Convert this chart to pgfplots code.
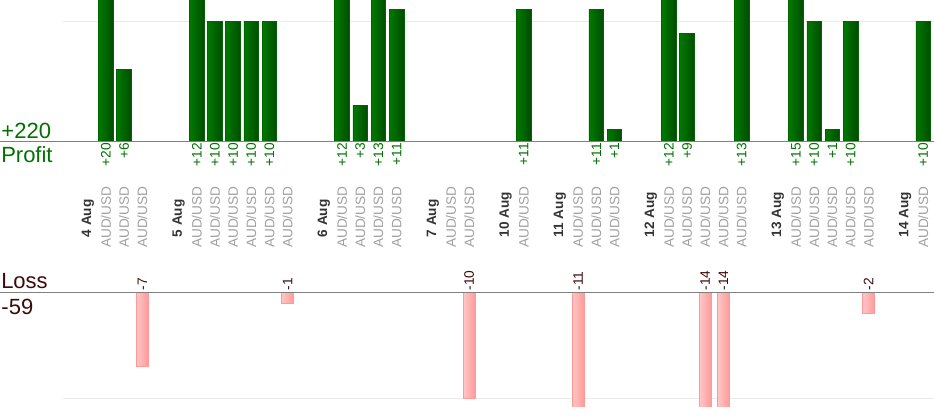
\documentclass[border=0pt]{standalone}
\usepackage{fontspec}
\setmainfont{Liberation Sans}
\usepackage{pgfplots}
\pgfplotsset{compat=1.18}

\definecolor{gL}{HTML}{007A00}
\definecolor{gR}{HTML}{004C00}
\definecolor{gB}{HTML}{006400}
\definecolor{gT}{HTML}{007000}
\definecolor{pL}{HTML}{FFC6C6}
\definecolor{pR}{HTML}{FF9A9A}
\definecolor{pB}{HTML}{FF9999}
\definecolor{lossT}{HTML}{3C0A0A}
\definecolor{basec}{HTML}{808080}
\definecolor{gridc}{HTML}{EBEBEB}
\definecolor{audT}{HTML}{A0A0A0}
\definecolor{dateT}{HTML}{333333}

\pgfplotsset{slotaxis/.style={scale only axis, width=700.5pt, xmin=-4.835, xmax=46.597, hide axis},
  pbar/.style={ybar, bar shift=0pt, bar width=11pt, draw=gB, line width=0.5pt, left color=gL, right color=gR},
  lbar/.style={ybar, bar shift=0pt, bar width=8.8pt, draw=pB, line width=0.5pt, left color=pL, right color=pR}}

\begin{document}
\begin{tikzpicture}
\useasboundingbox (0,0) rectangle (700.5pt,315pt);

% Profit axis
\begin{axis}[slotaxis, at={(0,209pt)}, anchor=south west, height=106pt, ymin=0, ymax=11.82]
\addplot[gridc, line width=0.75pt] coordinates {(-1.366,10) (46.597,10)};
\addplot[pbar] coordinates {(1,20)};
\addplot[pbar] coordinates {(2,6)};
\addplot[pbar] coordinates {(6,12)};
\addplot[pbar] coordinates {(7,10)};
\addplot[pbar] coordinates {(8,10)};
\addplot[pbar] coordinates {(9,10)};
\addplot[pbar] coordinates {(10,10)};
\addplot[pbar] coordinates {(14,12)};
\addplot[pbar] coordinates {(15,3)};
\addplot[pbar] coordinates {(16,13)};
\addplot[pbar] coordinates {(17,11)};
\addplot[pbar] coordinates {(24,11)};
\addplot[pbar] coordinates {(28,11)};
\addplot[pbar] coordinates {(29,1)};
\addplot[pbar] coordinates {(32,12)};
\addplot[pbar] coordinates {(33,9)};
\addplot[pbar] coordinates {(36,13)};
\addplot[pbar] coordinates {(39,15)};
\addplot[pbar] coordinates {(40,10)};
\addplot[pbar] coordinates {(41,1)};
\addplot[pbar] coordinates {(42,10)};
\addplot[pbar] coordinates {(46,10)};
\addplot[basec, line width=0.75pt] coordinates {(-4.835,0) (46.597,0)};
\end{axis}

% Loss axis
\begin{axis}[slotaxis, at={(0,10pt)}, anchor=south west, height=85.8pt, ymin=-10.79, ymax=0]
\addplot[gridc, line width=0.75pt] coordinates {(-1.366,-10) (46.597,-10)};
\addplot[lbar] coordinates {(3,-7)};
\addplot[lbar] coordinates {(11,-1)};
\addplot[lbar] coordinates {(21,-10)};
\addplot[lbar] coordinates {(27,-11)};
\addplot[lbar] coordinates {(34,-14)};
\addplot[lbar] coordinates {(35,-14)};
\addplot[lbar] coordinates {(43,-2)};
\addplot[basec, line width=0.75pt] coordinates {(-4.835,0) (46.597,0)};
\end{axis}

% Labels axis (y in pixels from top)
\begin{axis}[slotaxis, at={(0,0)}, anchor=south west, height=315pt, ymin=0, ymax=420, y dir=reverse, clip=false]
% profit values
\addplot[only marks, mark=none, nodes near coords, point meta=explicit symbolic,
  every node near coord/.append style={rotate=90, anchor=east, inner sep=0pt, text=gT, font=\fontsize{10.3}{12}\selectfont}]
 coordinates {(1,143)[+20] (2,143)[+6] (6,143)[+12] (7,143)[+10] (8,143)[+10] (9,143)[+10] (10,143)[+10]
 (14,143)[+12] (15,143)[+3] (16,143)[+13] (17,143)[+11] (24,143)[+11] (28,143)[+11] (29,143)[+1]
 (32,143)[+12] (33,143)[+9] (36,143)[+13] (39,143)[+15] (40,143)[+10] (41,143)[+1] (42,143)[+10] (46,143)[+10]};
% loss values
\addplot[only marks, mark=none, nodes near coords, point meta=explicit symbolic,
  every node near coord/.append style={rotate=90, anchor=west, inner sep=0pt, text=lossT, font=\fontsize{10.3}{12}\selectfont}]
 coordinates {(3,290.5)[-7] (11,290.5)[-1] (21,290.5)[-10] (27,290.5)[-11] (34,290.5)[-14] (35,290.5)[-14] (43,290.5)[-2]};
% instrument labels
\addplot[only marks, mark=none, nodes near coords={AUD/USD},
  every node near coord/.append style={rotate=90, anchor=west, inner sep=0pt, text=audT, font=\fontsize{10.2}{12}\selectfont}]
 coordinates {(1,248) (2,248) (3,248) (6,248) (7,248) (8,248) (9,248) (10,248) (11,248)
 (14,248) (15,248) (16,248) (17,248) (20,248) (21,248) (24,248) (27,248) (28,248) (29,248)
 (32,248) (33,248) (34,248) (35,248) (36,248) (39,248) (40,248) (41,248) (42,248) (43,248) (46,248)};
% date labels
\addplot[only marks, mark=none, nodes near coords, point meta=explicit symbolic,
  every node near coord/.append style={rotate=90, anchor=west, inner sep=0pt, text=dateT, font=\fontsize{10.2}{12}\selectfont\bfseries}]
 coordinates {(0,237.5)[4 Aug] (5,237.5)[5 Aug] (13,237.5)[6 Aug] (19,237.5)[7 Aug] (23,237.5)[10 Aug]
 (26,237.5)[11 Aug] (31,237.5)[12 Aug] (38,237.5)[13 Aug] (45,237.5)[14 Aug]};
% big side labels
\node[anchor=base west, inner sep=0pt, text=gT, font=\fontsize{16.5}{20}\selectfont] at (axis cs:-4.77,138.3) {+220};
\node[anchor=base west, inner sep=0pt, text=gT, font=\fontsize{16.5}{20}\selectfont] at (axis cs:-4.78,162.7) {Profit};
\node[anchor=base west, inner sep=0pt, text=lossT, font=\fontsize{16.5}{20}\selectfont] at (axis cs:-4.78,288.3) {Loss};
\node[anchor=base west, inner sep=0pt, text=lossT, font=\fontsize{16.5}{20}\selectfont] at (axis cs:-4.77,314.3) {-59};
\end{axis}
\end{tikzpicture}
\end{document}
